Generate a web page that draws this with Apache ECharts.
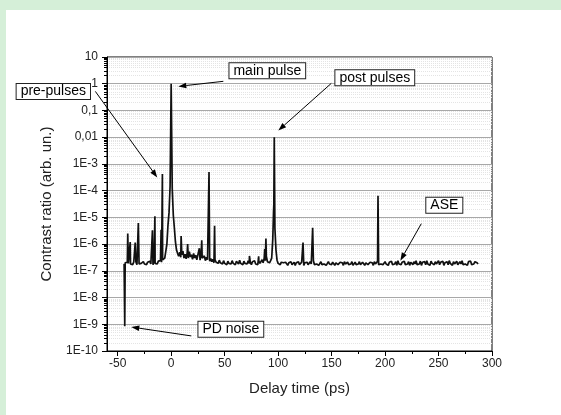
<!DOCTYPE html>
<html>
<head>
<meta charset="utf-8">
<script src="https://cdn.jsdelivr.net/npm/echarts@6/dist/echarts.min.js"></script>
<style>
  html, body { margin: 0; padding: 0; background: #d5efd8; }
  #main { position: absolute; left: 6px; top: 10px; width: 555px; height: 405px; background: #fff; }
</style>
</head>
<body>
<div id="main"></div>
<script>
// trace sampled every 1 ps starting at noiseStart (contrast, arb. un.)
const noiseStart = -44;
const noiseLevel = [
  1.8e-7, 2.0e-7, 1.7e-7, 2.1e-7, 1.9e-7, 2.2e-7, 1.8e-7, 2.0e-7, 1.7e-7, 2.1e-7,
  1.9e-7, 2.2e-7, 1.7e-7, 2.0e-7, 1.8e-7, 2.1e-7, 1.9e-7, 1.7e-7, 2.2e-7, 1.8e-7,
  2.0e-7, 1.7e-7, 2.1e-7, 1.9e-7, 2.3e-7, 1.8e-7, 2.0e-7, 1.7e-7, 2.2e-7, 1.9e-7,
  2.1e-7, 1.8e-7, 2.3e-7, 2.0e-7, 2.4e-7, 2.1e-7, 2.6e-7, 2.3e-7, 3.0e-7, 3.4e-7,
  1.0e-6, 5.0e-6, 1.5e-5, 1.5e-4, 1.0, 1.2e-4, 1.2e-5, 4.0e-6, 1.2e-6, 6.0e-7,
  4.5e-7, 3.5e-7, 5.0e-7, 3.2e-7, 4.0e-7, 5.5e-7, 3.0e-7, 4.2e-7, 2.8e-7, 4.8e-7,
  3.0e-7, 5.2e-7, 3.3e-7, 4.0e-7, 2.7e-7, 4.5e-7, 3.0e-7, 3.8e-7, 2.6e-7, 4.0e-7,
  3.5e-7, 2.5e-7, 4.2e-7, 3.0e-7, 2.8e-7, 3.6e-7, 2.4e-7, 3.2e-7, 2.6e-7, 3.0e-7,
  2.3e-7, 2.9e-7, 2.2e-7, 2.7e-7, 2.0e-7, 2.6e-7, 2.1e-7, 2.4e-7, 1.9e-7, 2.5e-7,
  2.0e-7, 2.3e-7, 1.8e-7, 2.4e-7, 1.9e-7, 2.2e-7, 1.7e-7, 2.3e-7, 1.9e-7, 2.1e-7,
  1.8e-7, 2.4e-7, 1.9e-7, 2.2e-7, 1.7e-7, 2.3e-7, 2.0e-7, 1.8e-7, 2.5e-7, 1.9e-7,
  2.1e-7, 1.7e-7, 2.3e-7, 1.9e-7, 2.2e-7, 1.8e-7, 2.4e-7, 1.9e-7, 2.1e-7, 1.7e-7,
  2.2e-7, 1.9e-7, 2.4e-7, 1.8e-7, 2.1e-7, 1.7e-7, 2.3e-7, 1.9e-7, 2.2e-7, 2.6e-7,
  2.0e-7, 3.0e-7, 2.4e-7, 3.5e-7, 2.2e-7, 2.6e-7, 2.0e-7, 2.4e-7, 3.0e-7, 1.5e-6,
  3.0e-5, 4.0e-6, 6.0e-7, 2.5e-7, 1.9e-7, 2.2e-7, 1.7e-7, 2.1e-7, 1.8e-7, 2.0e-7,
  1.7e-7, 2.1e-7, 1.9e-7, 1.6e-7, 2.0e-7, 1.8e-7, 2.2e-7, 1.7e-7, 1.9e-7, 2.1e-7,
  1.6e-7, 2.0e-7, 1.8e-7, 2.2e-7, 1.7e-7, 1.9e-7, 2.1e-7, 1.8e-7, 1.6e-7, 2.0e-7,
  1.8e-7, 2.1e-7, 1.7e-7, 1.9e-7, 2.2e-7, 1.8e-7, 2.0e-7, 2.4e-7, 1.7e-7, 2.0e-7,
  1.8e-7, 2.1e-7, 1.6e-7, 1.9e-7, 2.2e-7, 1.7e-7, 2.0e-7, 1.8e-7, 2.1e-7, 1.6e-7,
  1.9e-7, 2.2e-7, 1.8e-7, 2.0e-7, 1.7e-7, 2.1e-7, 1.8e-7, 1.6e-7, 2.0e-7, 2.2e-7,
  1.7e-7, 1.9e-7, 2.1e-7, 1.8e-7, 2.0e-7, 1.6e-7, 2.2e-7, 1.8e-7, 1.9e-7, 2.1e-7,
  1.7e-7, 2.0e-7, 1.8e-7, 2.2e-7, 1.6e-7, 1.9e-7, 2.1e-7, 1.7e-7, 2.0e-7, 1.8e-7,
  2.2e-7, 1.7e-7, 1.9e-7, 2.1e-7, 1.8e-7, 1.6e-7, 2.0e-7, 2.2e-7, 1.7e-7, 1.9e-7,
  2.1e-7, 1.8e-7, 2.0e-7, 1.6e-7, 2.2e-7, 1.8e-7, 2.0e-7, 2.3e-7, 1.7e-7, 2.0e-7,
  1.8e-7, 2.1e-7, 1.7e-7, 1.9e-7, 2.2e-7, 1.8e-7, 2.0e-7, 1.6e-7, 2.1e-7, 1.9e-7,
  2.3e-7, 1.7e-7, 2.0e-7, 1.8e-7, 2.2e-7, 1.6e-7, 2.4e-7, 1.8e-7, 2.0e-7, 1.7e-7,
  2.1e-7, 1.9e-7, 2.3e-7, 1.7e-7, 2.0e-7, 1.8e-7, 2.2e-7, 1.6e-7, 2.1e-7, 1.9e-7,
  1.7e-7, 2.2e-7, 1.8e-7, 2.4e-7, 1.7e-7, 2.0e-7, 1.8e-7, 2.3e-7, 1.6e-7, 2.1e-7,
  1.9e-7, 2.2e-7, 1.7e-7, 2.4e-7, 1.8e-7, 2.0e-7, 1.6e-7, 2.3e-7, 1.9e-7, 2.1e-7,
  1.7e-7, 2.2e-7, 1.8e-7, 2.0e-7, 2.4e-7, 1.7e-7, 2.1e-7, 1.8e-7, 2.3e-7, 1.6e-7,
  2.0e-7, 1.8e-7, 2.2e-7, 1.7e-7, 2.4e-7, 1.9e-7, 2.1e-7, 1.6e-7, 2.2e-7, 1.8e-7,
  2.0e-7, 2.3e-7, 1.7e-7, 1.9e-7, 2.2e-7, 1.8e-7, 2.4e-7, 1.7e-7, 2.0e-7, 1.8e-7,
  2.1e-7, 1.6e-7, 2.2e-7, 1.9e-7, 2.3e-7, 1.7e-7, 2.0e-7, 1.8e-7, 2.2e-7, 1.9e-7,
  2.0e-7, 1.8e-7
];
// narrow features between samples: [delay ps, contrast]
const spikes = [
  [-43.4, 8.5e-10], [-40.6, 2.5e-6], [-38.3, 1.2e-6], [-33.6, 1.15e-6],
  [-30.7, 6.2e-6], [-17.5, 3.3e-6], [-15.2, 1.1e-5], [-9.4, 3.4e-6],
  [-8.2, 4.2e-4], [9.3, 2.0e-6], [15.4, 1.0e-6], [26.4, 7.0e-7],
  [28.6, 1.4e-6], [35.4, 5.0e-4], [40.6, 4.9e-6], [73.2, 3.6e-7],
  [81.8, 3.5e-7], [87.5, 6.5e-7], [88.6, 1.6e-6], [95.7, 1.5e-5],
  [96.4, 1.0e-2], [123.3, 1.15e-6], [132.3, 4.1e-6], [193.4, 6.5e-5]
];

const xMajorTicks = [-50, 0, 50, 100, 150, 200, 250, 300];
const xMinorTicks = [-25, 25, 75, 125, 175, 225, 275];
const yTickValues = [1e-10, 1e-9, 1e-8, 1e-7, 1e-6, 1e-5, 1e-4, 1e-3, 0.01, 0.1, 1, 10];
const yTickLabels = ['1E-10', '1E-9', '1E-8', '1E-7', '1E-6', '1E-5', '1E-4', '1E-3', '0,01', '0,1', '1', '10'];

// annotations (data coordinates)
const noteText = ['main pulse', 'pre-pulses', 'post pulses', 'ASE', 'PD noise'];
const noteAt = [[89.9, 3.04], [-110.2, 0.517], [190.4, 1.66], [255.4, 2.87e-5], [55.8, 6.45e-10]];
const arrowFrom = [[48.8, 1.23], [-70.9, 0.517], [149.7, 1.03], [233.9, 5.8e-6], [18.8, 3.67e-10]];
const arrowTo = [[6.7, 0.796], [-13.0, 3.1e-4], [100.2, 0.0178], [214.3, 2.4e-7], [-37.3, 7.9e-10]];

const trace = noiseLevel.map((v, i) => [noiseStart + i, v])
  .concat(spikes)
  .sort((a, b) => a[0] - b[0]);

// log minor ticks 2..9 of every decade
const yMinorTicks = [];
yTickValues.slice(0, -1).forEach(d => {
  for (let k = 2; k <= 9; k++) yMinorTicks.push(+(d * k).toPrecision(3));
});

const font = 'Liberation Sans, Arial, sans-serif';
const myChart = echarts.init(document.getElementById('main'));

const option = {
  animation: false,
  grid: {
    left: 101, right: 69, top: 47, bottom: 64,
    show: true, borderColor: '#000', borderWidth: 1, backgroundColor: 'transparent'
  },
  xAxis: [
    {
      type: 'value', min: -60, max: 300, position: 'bottom',
      name: 'Delay time (ps)', nameLocation: 'middle', nameGap: 30,
      nameTextStyle: { fontFamily: font, fontSize: 15, color: '#222' },
      axisLine: { show: true, onZero: false, lineStyle: { color: '#000', width: 1 } },
      axisTick: { show: true, customValues: xMajorTicks, length: 5, lineStyle: { color: '#000' } },
      axisLabel: { customValues: xMajorTicks, margin: 7, fontFamily: font, fontSize: 12, color: '#222' },
      splitLine: { show: false }
    },
    {
      type: 'value', min: -60, max: 300, position: 'bottom',
      axisLine: { show: false, onZero: false },
      axisTick: { show: true, customValues: xMinorTicks, length: 3, lineStyle: { color: '#000' } },
      axisLabel: { show: false },
      splitLine: { show: false }
    }
  ],
  yAxis: [
    {
      type: 'log', logBase: 10, min: 1e-10, max: 10, position: 'left',
      name: 'Contrast ratio (arb. un.)', nameLocation: 'middle', nameGap: 53,
      nameTextStyle: { fontFamily: font, fontSize: 15, color: '#222' },
      axisLine: { show: true, onZero: false, lineStyle: { color: '#000', width: 1 } },
      axisTick: { show: true, customValues: yTickValues, length: 5, lineStyle: { color: '#000' } },
      axisLabel: {
        customValues: yTickValues, margin: 9, fontFamily: font, fontSize: 12, color: '#222',
        formatter: function (value) {
          const k = yTickValues.findIndex(v => Math.abs(Math.log10(v) - Math.log10(value)) < 1e-6);
          return k >= 0 ? yTickLabels[k] : '';
        }
      },
      splitLine: { show: true, lineStyle: { color: '#a8a8a8', width: 1 } }
    },
    {
      type: 'log', logBase: 10, min: 1e-10, max: 10, position: 'left',
      axisLine: { show: false, onZero: false },
      axisTick: { show: true, customValues: yMinorTicks, length: 3, lineStyle: { color: '#000' } },
      axisLabel: { show: false },
      splitLine: { show: true, lineStyle: { color: '#e4e4e4', width: 1, type: 'dotted' } }
    }
  ],
  series: [
    {
      name: 'contrast',
      type: 'line',
      xAxisIndex: 0,
      yAxisIndex: 0,
      data: trace,
      showSymbol: false,
      symbol: 'none',
      lineStyle: { color: '#111', width: 1.7 }
    }
  ]
};

myChart.setOption(option);

// annotation boxes and arrows, placed through the axis scales (some sit outside the plot)
function toPx(p) {
  return myChart.convertToPixel({ seriesIndex: 0 }, p);
}
const notes = [];
arrowFrom.forEach((from, i) => {
  const a = toPx(from);
  const b = toPx(arrowTo[i]);
  const dx = b[0] - a[0], dy = b[1] - a[1];
  const len = Math.sqrt(dx * dx + dy * dy);
  const ux = dx / len, uy = dy / len;
  const headLen = 8, headHalf = 2.8;
  const bx = b[0] - ux * headLen, by = b[1] - uy * headLen;
  notes.push({
    type: 'line', z: 50, silent: true,
    shape: { x1: a[0], y1: a[1], x2: bx, y2: by },
    style: { stroke: '#000', lineWidth: 1 }
  });
  notes.push({
    type: 'polygon', z: 50, silent: true,
    shape: { points: [b, [bx - uy * headHalf, by + ux * headHalf], [bx + uy * headHalf, by - ux * headHalf]] },
    style: { fill: '#000' }
  });
});
noteText.forEach((t, i) => {
  const c = toPx(noteAt[i]);
  notes.push({
    type: 'text', z: 60, silent: true, x: c[0], y: c[1],
    style: {
      text: t, font: '14px ' + font, fill: '#000',
      align: 'center', verticalAlign: 'middle',
      backgroundColor: '#fff', borderColor: '#222', borderWidth: 1,
      padding: [1, 4, 0, 4]
    }
  });
});
myChart.setOption({ graphic: notes });
</script>
</body>
</html>
